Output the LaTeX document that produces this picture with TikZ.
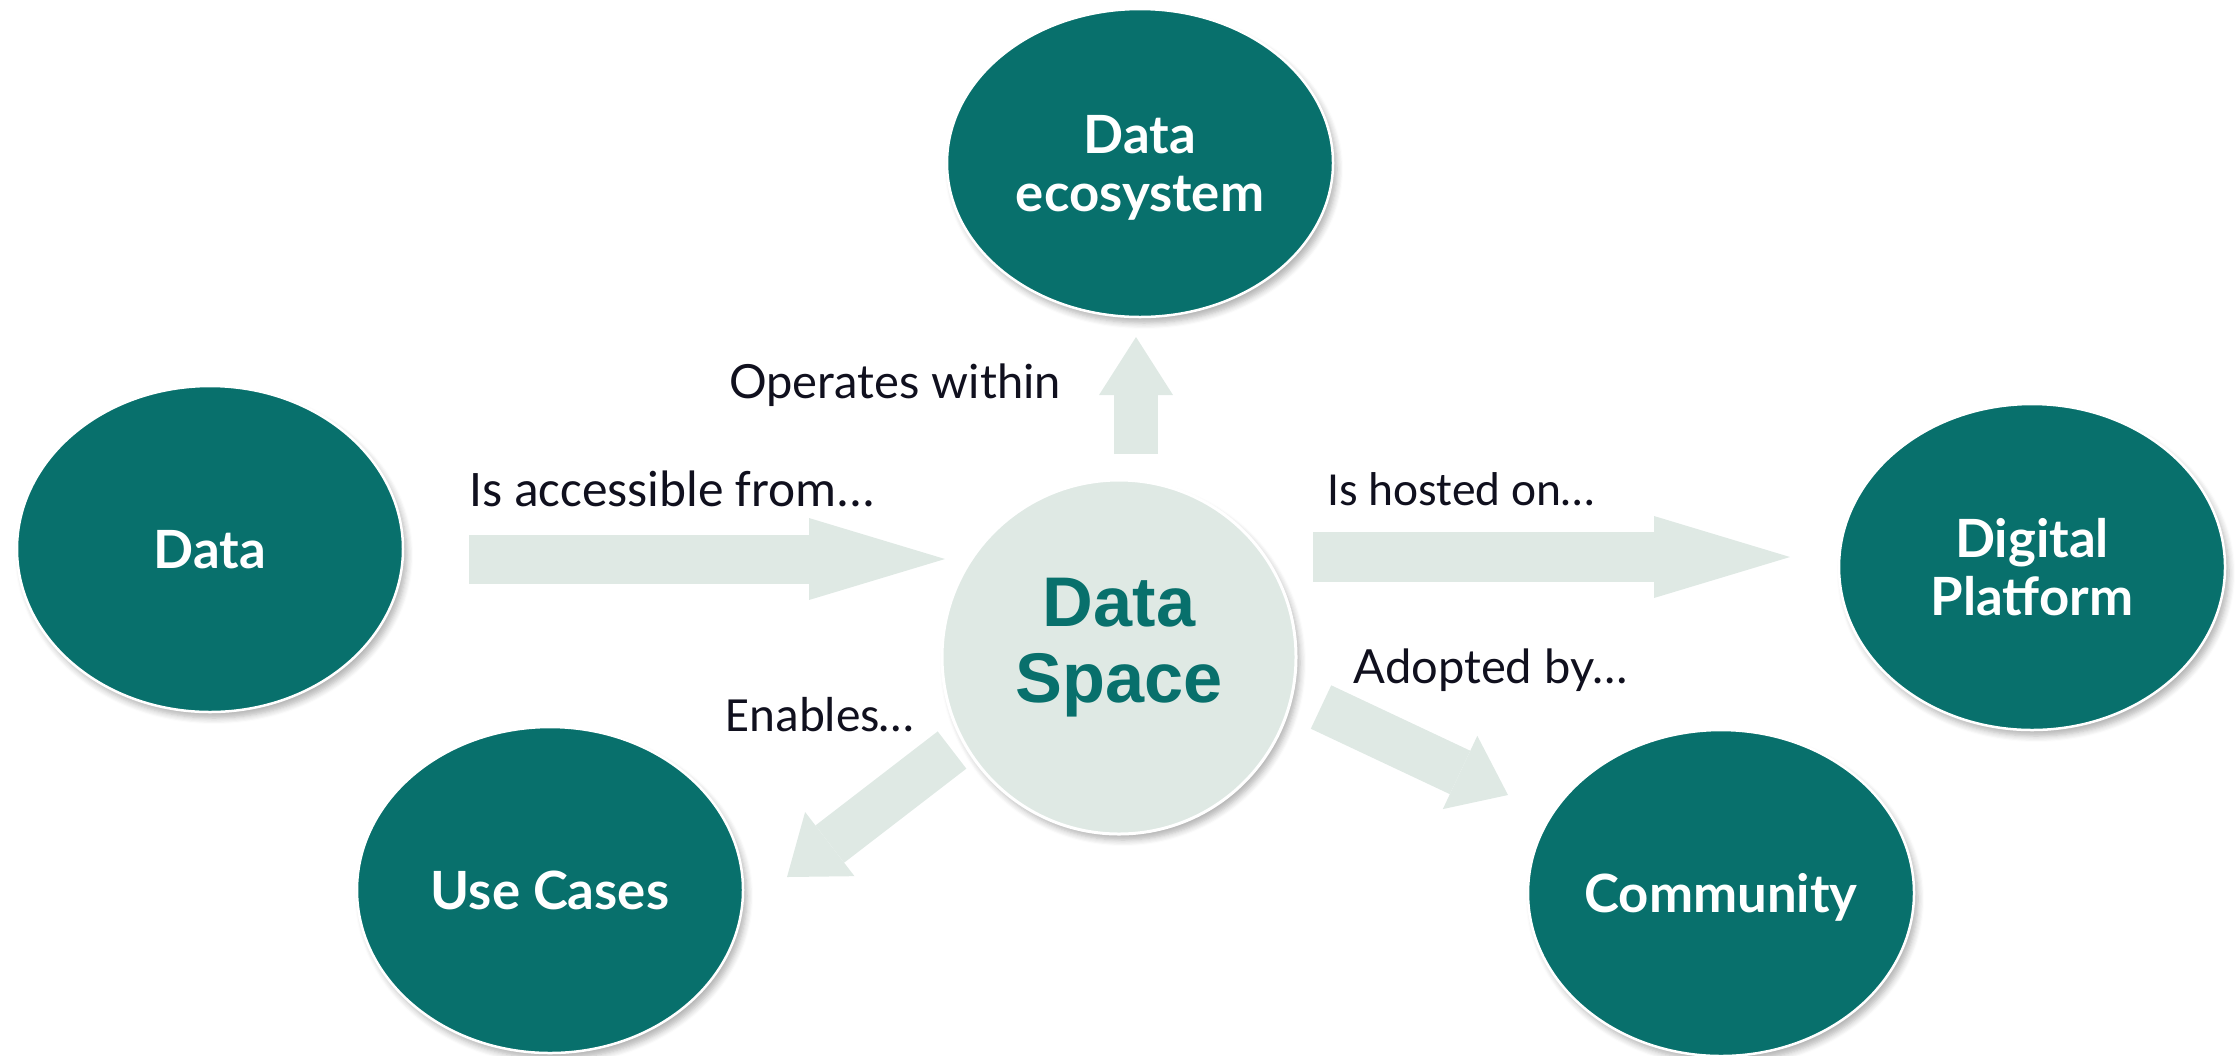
\documentclass[tikz,border=0pt]{standalone}
\usepackage{fontspec}
\newfontfamily\latofont{Lato}
\newfontfamily\carlitofont{Carlito}
\newfontfamily\arialfont{Liberation Sans}
\usetikzlibrary{shapes.geometric,arrows.meta,shadows.blur}
\definecolor{dsteal}{HTML}{08706C}
\definecolor{dspale}{HTML}{DFE9E4}
\definecolor{dsink}{HTML}{10101E}
\tikzset{
    softshadow/.style={blur shadow={shadow blur steps=6, shadow xshift=0.4mm, shadow yshift=-0.6mm, shadow opacity=30}},
    bubble/.style={ellipse, fill=dsteal, draw=white, line width=0.25mm, text=white, align=center,
        inner sep=0pt, minimum width=38.6mm, minimum height=32.6mm, text depth=0pt, softshadow,
        font=\latofont\bfseries\fontsize{15}{16.5}\selectfont},
    flow/.style={draw=dspale, line width=#1},
    longtip/.style={-{Triangle[length=13.6mm, width=8.2mm, line width=0pt]}},
    shorttip/.style={-{Triangle[length=#1, width=8.1mm, line width=0pt]}},
    rel/.style={text=dsink, inner sep=0pt, anchor=base west, font=\carlitofont\fontsize{14}{16}\selectfont},
    rellato/.style={rel, font=\latofont\fontsize{13.4}{16}\selectfont}
}
\begin{document}
\begin{tikzpicture}[x=0.1mm, y=-0.1mm]
    \useasboundingbox (0,0) rectangle (2236,1055);

    \node[bubble, minimum height=30.8mm] (eco) at (1140,163) {Data\\ecosystem};
    \node[bubble] (data) at (210,549) {Data};
    \node[bubble] (plat) at (2032,567) {Digital\\Platform};
    \node[bubble] (usec) at (550,890) {Use Cases};
    \node[bubble, inner xsep=-1mm] (comm) at (1721,893) {Community};
    \node[circle, fill=dspale, draw=white, line width=0.3mm, minimum size=35.4mm, inner sep=0pt,
        text=dsteal, align=center, text depth=3.4mm, softshadow,
        font=\arialfont\bfseries\fontsize{20}{21.6}\selectfont] (space) at (1119,657) {Data\\Space};

    \coordinate (acc-s) at (469,559);   \coordinate (acc-e) at (945,559);
    \coordinate (host-s) at (1313,557); \coordinate (host-e) at (1790,557);
    \coordinate (op-s) at (1136,454);   \coordinate (op-e) at (1136,337);
    \coordinate (en-s) at (952,750);    \coordinate (en-e) at (787,877);
    \coordinate (ad-s) at (1321,707);   \coordinate (ad-e) at (1508,795);

    \draw[flow=4.9mm, longtip] (acc-s) -- (acc-e);
    \draw[flow=5mm, longtip] (host-s) -- (host-e);
    \draw[flow=4.4mm, -{Triangle[length=5.8mm, width=7.4mm, line width=0pt]}] (op-s) -- (op-e);
    \draw[flow=4.7mm, shorttip=5.4mm] (en-s) -- (en-e);
    \draw[flow=4.8mm, shorttip=5.3mm] (ad-s) -- (ad-e);

    \node[rellato, anchor=base] (op-l) at (895,398) {Operates within};
    \node[rel, font=\carlitofont\fontsize{14.6}{16}\selectfont] (acc-l) at (469,506) {Is accessible from...};
    \node[rel, font=\carlitofont\fontsize{13.5}{16}\selectfont] (host-l) at (1327,505) {Is hosted on…};
    \node[rel] (en-l) at (725,731) {Enables…};
    \node[rellato] (ad-l) at (1353,683) {Adopted by…};
\end{tikzpicture}
\end{document}
